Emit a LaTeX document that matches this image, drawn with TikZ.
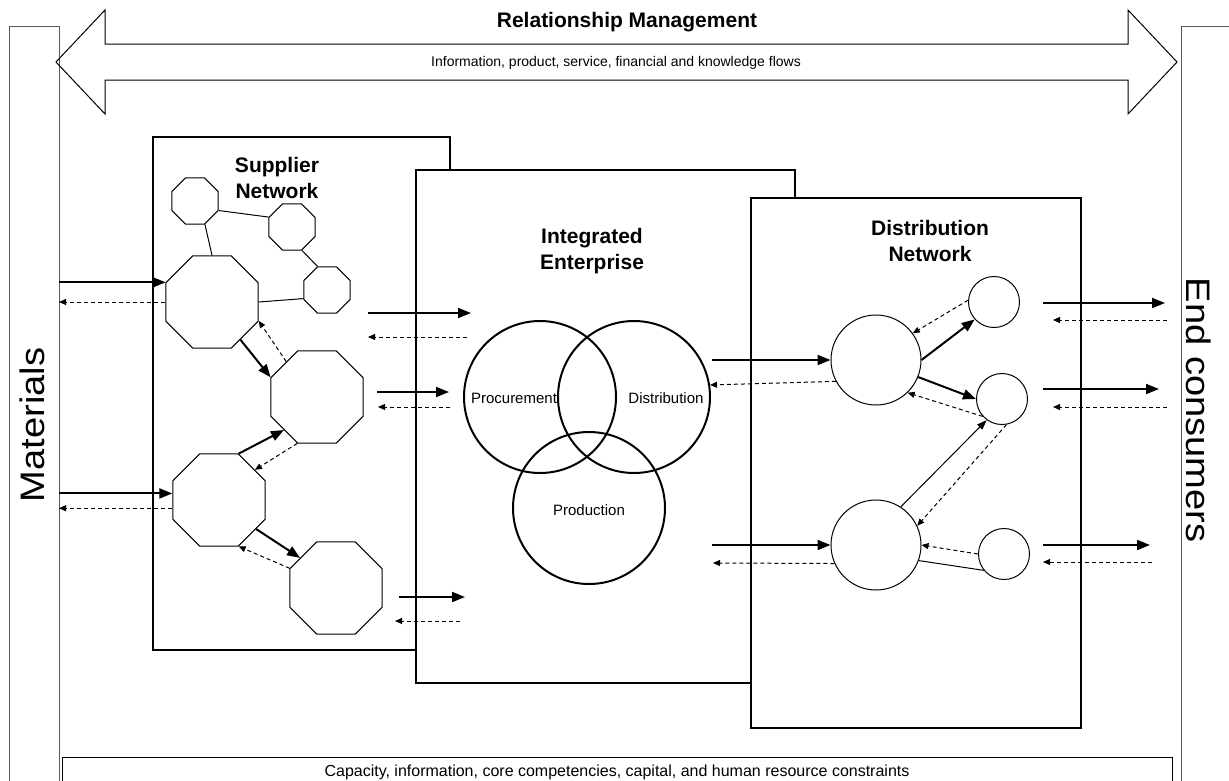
\documentclass[tikz,border=0pt]{standalone}
\usepackage{graphicx}
\usepackage{fontspec}
\setmainfont{Liberation Sans}
\usetikzlibrary{shapes.geometric,arrows.meta}

\begin{document}
\begin{tikzpicture}[
        x=1pt, y=-1pt,
        frame/.style={draw=black!65, line width=1pt, inner sep=0pt, outer sep=0pt},
        panel/.style={draw, line width=2pt, fill=white, inner sep=0pt, outer sep=0pt},
        title/.style={font=\fontsize{21}{26}\selectfont\bfseries, align=center},
        venn text/.style={font=\fontsize{15}{18}\selectfont, anchor=base},
        octagon/.style={regular polygon, regular polygon sides=8, draw, fill=white, line width=1pt, inner sep=0pt},
        big octagon/.style={octagon, minimum size=100pt},
        small octagon/.style={octagon, minimum size=50pt},
        venn/.style={circle, draw, line width=2pt, minimum size=152pt, inner sep=0pt},
        hub/.style={circle, draw, fill=white, line width=1pt, minimum size=90pt, inner sep=0pt},
        outlet/.style={circle, draw, fill=white, line width=1pt, minimum size=51pt, inner sep=0pt},
        goods/.style={draw, line width=2pt, -{Triangle[length=13pt, width=10pt]}},
        thin goods/.style={draw, line width=1pt, -{Triangle[length=10pt, width=7pt]}},
        feedback/.style={draw, line width=1pt, dash pattern=on 4pt off 3pt, -{Triangle[length=7pt, width=6pt]}},
        link/.style={draw, line width=1pt},
    ]
	\path[use as bounding box, fill=white] (0,0) rectangle (1229,780);
	\clip (0,0) rectangle (1229,780);

	% outer frame
	\node[frame, anchor=north west, minimum width=50pt, minimum height=800pt] (materials_box) at (9,26) {};
	\node[frame, anchor=north west, minimum width=60pt, minimum height=800pt] (consumers_box) at (1181,26) {};
	\node[frame, draw=black, anchor=north west, minimum width=1110pt, minimum height=60pt] (constraints_box) at (62,757) {};
	\node[rotate=90, font=\fontsize{34}{40}\selectfont] (materials) at (32,425) {\scalebox{1.12}[1]{Materials}};
	\node[rotate=-90, font=\fontsize{34}{40}\selectfont] (consumers) at (1199,410) {\scalebox{1.12}[1]{End consumers}};
	\node[font=\fontsize{16}{19}\selectfont, anchor=base] (constraints) at (617,776) {Capacity, information, core competencies, capital, and human resource constraints};

	\draw[line width=1pt] (56,62) -- (105,10) -- (105,44) -- (1128,44) -- (1128,10) -- (1177,62) -- (1128,114) -- (1128,80) -- (105,80) -- (105,114) -- cycle;
	\node[font=\fontsize{21}{26}\selectfont\bfseries, anchor=base] (relationship) at (627,27) {Relationship Management};
	\node[font=\fontsize{14}{17}\selectfont, anchor=base] (flows) at (616,66) {Information, product, service, financial and knowledge flows};

	% supplier network
	\node[panel, anchor=north west, minimum width=297pt, minimum height=513pt] (supplier) at (153,137) {};
	\node[title] (supplier_title) at (277,178) {Supplier\\Network};
	\node[small octagon] (s_1) at (195,201) {};
	\node[small octagon] (s_2) at (292,227) {};
	\node[small octagon] (s_3) at (327,290) {};
	\node[big octagon] (s_4) at (212,302) {};
	\node[big octagon] (s_5) at (317,397) {};
	\node[big octagon] (s_6) at (219,500) {};
	\node[big octagon] (s_7) at (336,588) {};
	\draw[link] (s_4.north) -- (s_1.-67.5);
	\draw[link] (s_1.-22.5) -- (s_2.157.5);
	\draw[link] (s_2.-67.5) -- (s_3.112.5);
	\draw[link] (s_4.east) -- (s_3.200);
	\draw[goods] (s_4.-53) -- (s_5.157.5);
	\draw[feedback] (s_5.131) -- (s_4.-22.5);
	\draw[goods] (s_6.67.5) -- (s_5.225);
	\draw[feedback] (s_5.247.5) -- (s_6.40);
	\draw[goods] (s_6.-38) -- (s_7.140);
	\draw[feedback] (s_7.157.5) -- (s_6.-67.5);

	% integrated enterprise
	\node[panel, anchor=north west, minimum width=379pt, minimum height=513pt] (enterprise) at (416,170) {};
	\node[title] (enterprise_title) at (592,251) {Integrated\\Enterprise};
	\node[venn] (procurement) at (540,397) {};
	\node[venn] (distribution_c) at (634,397) {};
	\node[venn] (production) at (589,508) {};
	\node[venn text] (procurement_text) at (514,403) {Procurement};
	\node[venn text] (distribution_text) at (666,403) {Distribution};
	\node[venn text] (production_text) at (589,515) {Production};

	% distribution network
	\node[panel, anchor=north west, minimum width=330pt, minimum height=530pt] (distribution) at (751,198) {};
	\node[title] (distribution_title) at (930,241) {Distribution\\Network};
	\node[hub] (hub_1) at (876,360) {};
	\node[hub] (hub_2) at (876,545) {};
	\node[outlet] (out_1) at (994,302) {};
	\node[outlet] (out_2) at (1002,399) {};
	\node[outlet] (out_3) at (1004,554) {};
	\draw[goods] (hub_1.east) -- (out_1.222);
	\draw[feedback] (out_1.176) -- (hub_1.36);
	\draw[goods] (hub_1.-22) -- (out_2.west);
	\draw[feedback] (out_2.222) -- (hub_1.-46);
	\draw[thin goods] (hub_2.57) -- (out_2.234);
	\draw[feedback] (out_2.-80) -- (hub_2.25);
	\draw[feedback] (out_3.west) -- (hub_2.east);
	\draw[link] (hub_2.-20) -- (out_3.219);

	% flows between the stages
	\coordinate (sa_1) at (368,313);
	\coordinate (sb_1) at (471,313);
	\coordinate (sc_1) at (467,337);
	\coordinate (sd_1) at (368,337);
	\coordinate (sa_2) at (377,392);
	\coordinate (sb_2) at (449,392);
	\coordinate (sc_2) at (450,407);
	\coordinate (sd_2) at (378,407);
	\coordinate (sa_3) at (399,597);
	\coordinate (sb_3) at (465,597);
	\coordinate (sc_3) at (460,621);
	\coordinate (sd_3) at (395,621);
	\coordinate (ea_1) at (712,360);
	\coordinate (ea_2) at (712,545);
	\coordinate (ed_2) at (713,563);
	\coordinate (da_1) at (1043,303);
	\coordinate (db_1) at (1165,303);
	\coordinate (dc_1) at (1167,320);
	\coordinate (dd_1) at (1053,320);
	\coordinate (da_2) at (1043,389);
	\coordinate (db_2) at (1159,389);
	\coordinate (dc_2) at (1167,407);
	\coordinate (dd_2) at (1053,407);
	\coordinate (da_3) at (1043,545);
	\coordinate (db_3) at (1150,545);
	\coordinate (dc_3) at (1152,562);
	\coordinate (dd_3) at (1043,562);
	\draw[goods] (s_4.157.5 -| materials_box.east) -- (s_4.157.5);
	\draw[feedback] (s_4.west) -- (s_4.west -| materials_box.east);
	\draw[goods] (s_6.172 -| materials_box.east) -- (s_6.172);
	\draw[feedback] (s_6.190) -- (s_6.190 -| materials_box.east);
	\draw[goods] (sa_1) -- (sb_1);
	\draw[feedback] (sc_1) -- (sd_1);
	\draw[goods] (sa_2) -- (sb_2);
	\draw[feedback] (sc_2) -- (sd_2);
	\draw[goods] (sa_3) -- (sb_3);
	\draw[feedback] (sc_3) -- (sd_3);
	\draw[goods] (ea_1) -- (hub_1.west);
	\draw[feedback] (hub_1.208) -- (distribution_c.9);
	\draw[goods] (ea_2) -- (hub_2.west);
	\draw[feedback] (hub_2.204) -- (ed_2);
	\draw[goods] (da_1) -- (db_1);
	\draw[feedback] (dc_1) -- (dd_1);
	\draw[goods] (da_2) -- (db_2);
	\draw[feedback] (dc_2) -- (dd_2);
	\draw[goods] (da_3) -- (db_3);
	\draw[feedback] (dc_3) -- (dd_3);
\end{tikzpicture}
\end{document}
